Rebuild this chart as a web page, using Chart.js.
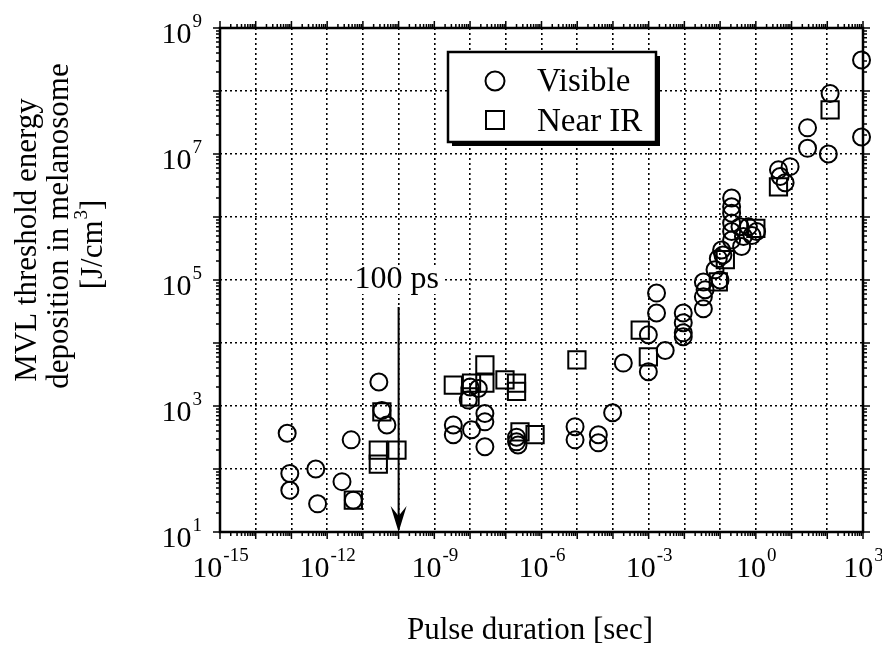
<!DOCTYPE html>
<html>
<head>
<meta charset="utf-8">
<script src="https://cdn.jsdelivr.net/npm/chart.js@4.4.0/dist/chart.umd.min.js"></script>
<style>
  html, body { margin: 0; padding: 0; background: #fff; }
  #wrap { width: 882px; height: 651px; }
</style>
</head>
<body>
<div id="wrap"><canvas id="chart" width="882" height="651"></canvas></div>
<script>
// Visible wavelengths: pulse duration [s] and threshold energy [J/cm^3]
const visibleX = [
    7.6e-14, 9e-14, 9e-14, 4.8e-13, 5.4e-13, 2.6e-12, 4.7e-12, 5.4e-12, 2.8e-11, 3.4e-11, 4.7e-11,
    3.4e-9, 3.4e-9, 8.9e-9, 1e-8, 1.7e-8, 1.1e-8, 2.6e-8, 2.6e-8, 2.6e-8, 2e-7, 2e-7, 2.2e-7,
    8.7e-6, 8.7e-6, 3.9e-5, 3.9e-5, 9.8e-5, 1.95e-4, 9.8e-4, 1.66e-3, 1.66e-3, 9.8e-4, 2.9e-3,
    9.3e-3, 9.3e-3, 9.3e-3, 9.3e-3,
    3.4e-2, 3.4e-2, 3.4e-2, 3.8e-2,
    0.1, 0.072, 0.089, 0.11, 0.12,
    0.21, 0.21, 0.21, 0.21, 0.21, 0.21,
    0.36, 0.45, 0.62, 0.78, 0.4, 1.05,
    4.3, 4.8, 6.6, 9.1,
    28, 28, 107, 120, 910, 910
];
const visibleY = [
    370, 85, 46, 100, 28, 63, 290, 32, 2400, 850, 500,
    500, 350, 1240, 2000, 1900, 420, 760, 560, 225, 320, 270, 240,
    470, 290, 350, 260, 780, 4800, 13500, 62000, 30000, 3500, 7600,
    30000, 21000, 14500, 12600,
    93000, 54000, 35000, 70000,
    100000, 145000, 220000, 300000, 250000,
    2e6, 1.45e6, 1.15e6, 8e5, 5.9e5, 4.3e5,
    7e5, 4.9e5, 7e5, 5.1e5, 3.4e5, 5.9e5,
    5.6e6, 4.4e6, 3.5e6, 6.3e6,
    2.6e7, 1.23e7, 1e7, 9.1e7, 3.1e8, 1.86e7
];

// Near IR
const nirX = [
    5.4e-12, 3.4e-11, 2.7e-11, 2.7e-11, 9e-11,
    3.4e-9, 1.1e-8, 1e-8, 2.6e-8, 2.6e-8, 9.5e-8, 2e-7, 2e-7, 2.5e-7, 6.6e-7,
    9.8e-6, 5.8e-4, 9.8e-4, 0.089, 0.14, 1.0, 4.3, 120
];
const nirY = [
    32, 810, 200, 120, 200,
    2150, 2300, 1400, 4500, 2300, 2600, 2300, 1700, 390, 350,
    5400, 16000, 6000, 93000, 210000, 660000, 3e6, 5e7
];

// tick label exponents
const xLabelExps = [-15, -12, -9, -6, -3, 0, 3];
const yLabelExps = [1, 3, 5, 7, 9];

const serif = '"Liberation Serif", "Times New Roman", serif';

function decades(lo, hi) {
    const out = [];
    for (let e = lo; e <= hi; e++) out.push({ value: Math.pow(10, e) });
    return out;
}

function toPoints(xs, ys) {
    return xs.map((x, i) => ({ x: x, y: ys[i] }));
}

// draws frame, ticks, labels, legend, annotation
const decorPlugin = {
    id: 'decor',
    afterDraw(chart) {
        const ctx = chart.ctx;
        const a = chart.chartArea;
        const xs = chart.scales.x;
        const ys = chart.scales.y;
        ctx.save();
        ctx.strokeStyle = '#000';
        ctx.fillStyle = '#000';

        // ticks outward on all 4 sides
        ctx.lineWidth = 1.5;
        for (let e = -15; e <= 3; e++) {
            for (let m = 1; m < 10; m++) {
                if (e === 3 && m > 1) break;
                const px = xs.getPixelForValue(m * Math.pow(10, e));
                const len = m === 1 ? 7 : 4;
                ctx.beginPath();
                ctx.moveTo(px, a.bottom); ctx.lineTo(px, a.bottom + len);
                ctx.moveTo(px, a.top); ctx.lineTo(px, a.top - len);
                ctx.stroke();
            }
        }
        for (let e = 1; e <= 9; e++) {
            for (let m = 1; m < 10; m++) {
                if (e === 9 && m > 1) break;
                const py = ys.getPixelForValue(m * Math.pow(10, e));
                const len = m === 1 ? 7 : 4;
                ctx.beginPath();
                ctx.moveTo(a.left, py); ctx.lineTo(a.left - len, py);
                ctx.moveTo(a.right, py); ctx.lineTo(a.right + len, py);
                ctx.stroke();
            }
        }

        // frame
        ctx.lineWidth = 2.5;
        ctx.strokeRect(a.left, a.top, a.right - a.left, a.bottom - a.top);

        // tick labels with superscripts
        const baseFont = '30px ' + serif;
        const expFont = '19px ' + serif;
        ctx.textBaseline = 'alphabetic';
        xLabelExps.forEach(e => {
            const px = xs.getPixelForValue(Math.pow(10, e));
            ctx.font = baseFont;
            const wb = ctx.measureText('10').width;
            ctx.font = expFont;
            const ex = String(e);
            const we = ctx.measureText(ex).width;
            const x0 = px - (wb + we) / 2;
            ctx.font = baseFont;
            ctx.textAlign = 'left';
            ctx.fillText('10', x0, a.bottom + 45);
            ctx.font = expFont;
            ctx.fillText(ex, x0 + wb + 1, a.bottom + 29);
        });
        yLabelExps.forEach(e => {
            const py = ys.getPixelForValue(Math.pow(10, e));
            ctx.font = expFont;
            const ex = String(e);
            const we = ctx.measureText(ex).width;
            ctx.font = baseFont;
            const wb = ctx.measureText('10').width;
            const xr = a.left - 18;
            ctx.textAlign = 'left';
            ctx.fillText('10', xr - we - wb - 1, py + 15);
            ctx.font = expFont;
            ctx.fillText(ex, xr - we, py - 1);
        });

        // axis titles
        ctx.font = '31px ' + serif;
        ctx.textAlign = 'center';
        ctx.textBaseline = 'middle';
        ctx.fillText('Pulse duration [sec]', 530, 631);

        ctx.save();
        ctx.rotate(-Math.PI / 2);
        ctx.fillText('MVL threshold energy', -240, 28);
        ctx.fillText('deposition in melanosome', -226, 60);
        const t1 = '[J/cm';
        const t2 = ']';
        const w1 = ctx.measureText(t1).width;
        const w2 = ctx.measureText(t2).width;
        ctx.font = '19px ' + serif;
        const w3 = ctx.measureText('3').width;
        const tx0 = -245 - (w1 + w2 + w3) / 2;
        ctx.textAlign = 'left';
        ctx.font = '31px ' + serif;
        ctx.fillText(t1, tx0, 94);
        ctx.fillText(t2, tx0 + w1 + w3 + 1, 94);
        ctx.font = '19px ' + serif;
        ctx.fillText('3', tx0 + w1 + 1, 82);
        ctx.restore();

        // 100 ps annotation with arrow
        const ax = xs.getPixelForValue(1e-10);
        const ly = ys.getPixelForValue(1e5);
        ctx.font = '32px ' + serif;
        ctx.textAlign = 'center';
        ctx.textBaseline = 'middle';
        const lw = ctx.measureText('100 ps').width;
        ctx.fillStyle = '#fff';
        ctx.fillRect(ax - lw / 2 - 4, ly - 14, lw + 6, 28);
        ctx.fillStyle = '#000';
        ctx.fillText('100 ps', ax - 2, ly);
        ctx.lineWidth = 2;
        ctx.beginPath();
        ctx.moveTo(ax, ly + 27);
        ctx.lineTo(ax, a.bottom - 6);
        ctx.stroke();
        ctx.beginPath();
        ctx.moveTo(ax, a.bottom);
        ctx.lineTo(ax - 8, a.bottom - 26);
        ctx.lineTo(ax, a.bottom - 16);
        ctx.lineTo(ax + 8, a.bottom - 26);
        ctx.closePath();
        ctx.fill();

        // legend box with shadow
        const bx = 448, by = 52, bw = 208, bh = 90;
        ctx.fillRect(bx + 4, by + 4, bw, bh);
        ctx.fillStyle = '#fff';
        ctx.fillRect(bx, by, bw, bh);
        ctx.lineWidth = 2.5;
        ctx.strokeRect(bx, by, bw, bh);
        ctx.fillStyle = '#000';
        ctx.lineWidth = 2;
        ctx.beginPath();
        ctx.arc(495, 81, 9.5, 0, Math.PI * 2);
        ctx.stroke();
        ctx.strokeRect(486, 111, 18, 18);
        ctx.font = '33px ' + serif;
        ctx.textAlign = 'left';
        ctx.textBaseline = 'alphabetic';
        ctx.fillText('Visible', 537, 91);
        ctx.fillText('Near IR', 537, 131);

        ctx.restore();
    }
};

const ctx = document.getElementById('chart').getContext('2d');
const chart = new Chart(ctx, {
    type: 'scatter',
    data: {
        datasets: [
            {
                label: 'Visible',
                data: toPoints(visibleX, visibleY),
                pointStyle: 'circle',
                pointRadius: 8.5,
                pointBorderWidth: 2,
                borderColor: '#000',
                backgroundColor: 'rgba(0,0,0,0)',
                clip: false
            },
            {
                label: 'Near IR',
                data: toPoints(nirX, nirY),
                pointStyle: 'rect',
                pointRadius: 12.2,
                pointBorderWidth: 2,
                borderColor: '#000',
                backgroundColor: 'rgba(0,0,0,0)',
                clip: false
            }
        ]
    },
    options: {
        responsive: false,
        animation: false,
        events: [],
        layout: { padding: { left: 220, right: 19, top: 28, bottom: 119 } },
        plugins: {
            legend: { display: false },
            tooltip: { enabled: false }
        },
        scales: {
            x: {
                type: 'logarithmic',
                min: 1e-15,
                max: 1e3,
                afterBuildTicks: s => { s.ticks = decades(-15, 3); },
                afterFit: s => { s.height = 0; },
                ticks: { display: false },
                grid: { color: '#000', lineWidth: 1.6, drawTicks: false },
                border: { display: false, dash: [2, 3] }
            },
            y: {
                type: 'logarithmic',
                min: 1e1,
                max: 1e9,
                afterBuildTicks: s => { s.ticks = decades(1, 9); },
                afterFit: s => { s.width = 0; },
                ticks: { display: false },
                grid: { color: '#000', lineWidth: 1.6, drawTicks: false },
                border: { display: false, dash: [2, 3] }
            }
        }
    },
    plugins: [decorPlugin]
});
</script>
</body>
</html>
